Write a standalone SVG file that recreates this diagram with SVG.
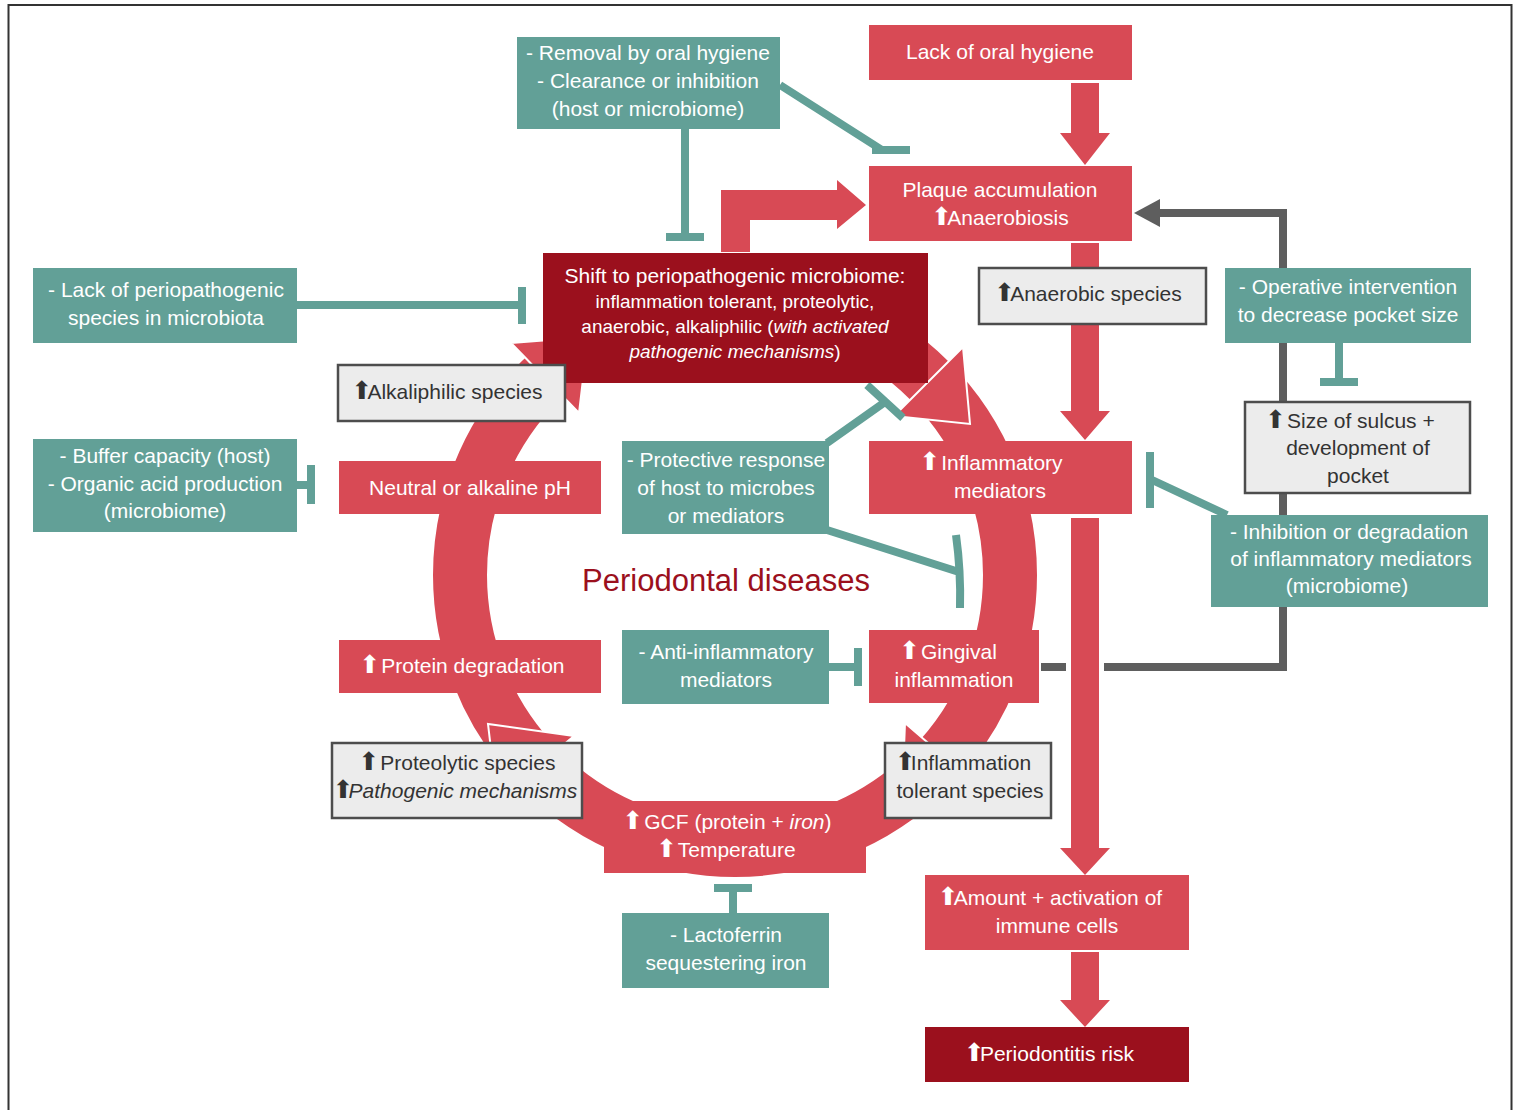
<svg xmlns="http://www.w3.org/2000/svg" width="1518" height="1110" viewBox="0 0 1518 1110">
<style>
.r{fill:#D84A55}
.dr{fill:#9B101D}
.t{fill:#62A097}
.g{fill:#ECECEC;stroke:#4D4D4D;stroke-width:2.5}
text{font-family:"Liberation Sans",Arial,sans-serif;font-size:21px;text-anchor:middle}
.w{fill:#fff}
.d{fill:#333}
.s{font-size:19px}
.i{font-style:italic}
.up{font-family:"DejaVu Sans",sans-serif;font-size:25px;letter-spacing:-5px}
.inh{stroke:#62A097;stroke-width:8;fill:none}
.fb{stroke:#5E5E5E;stroke-width:8;fill:none}
.head{fill:#D84A55;stroke:#fff;stroke-width:2;stroke-linejoin:miter}
</style>
<rect x="0" y="0" width="1518" height="1110" fill="#fff"/>
<rect x="8.5" y="5" width="1503" height="1130" fill="none" stroke="#333" stroke-width="2"/>

<g id="connectors">
  <!-- cycle ring -->
  <circle cx="735" cy="575" r="275" fill="none" stroke="#D84A55" stroke-width="54"/>
  <polygon class="head" points="894,416 963,347 970,424"/>
  <polygon class="head" points="579,413 511,343 588,337"/>
  <polygon class="head" points="905,723 978,786 902,799"/>
  <polygon class="head" points="574,736 497,800 488,724"/>
  <!-- vertical red arrows -->
  <polygon class="r" points="1071,83 1099,83 1099,133 1110,133 1085,165 1060,133 1071,133"/>
  <polygon class="r" points="1071,243 1099,243 1099,411 1110,411 1085,440 1060,411 1071,411"/>
  <polygon class="r" points="1071,518 1099,518 1099,848 1110,848 1085,875 1060,848 1071,848"/>
  <polygon class="r" points="1071,952 1099,952 1099,1000 1110,1000 1085,1027 1060,1000 1071,1000"/>
  <!-- elbow arrow shift -> plaque -->
  <polygon class="r" points="721,252 721,190 837,190 837,180 866,205 837,229 837,220 750,220 750,252"/>
  <!-- grey feedback -->
  <path class="fb" d="M1041,667 H1066 M1104,667 H1283 V213 H1156"/>
  <polygon fill="#5E5E5E" points="1134,213 1160,199 1160,227"/>
  <!-- inhibition lines -->
  <path class="inh" d="M685,129 V237 M666,237 H704"/>
  <path class="inh" d="M780,85 L882,150 M872,150 H910"/>
  <path class="inh" d="M297,305 H522 M522,287 V324"/>
  <path class="inh" d="M297,485 H311 M311,465 V504"/>
  <path class="inh" d="M1339,343 V382 M1320,382 H1358"/>
  <path class="inh" d="M1227,515 L1150,479 M1150,452 V508"/>
  <path class="inh" d="M827,443 L885,402 M867,385 L903,418"/>
  <path class="inh" d="M827,530 L959,572 M956,535 Q961,571 960,608"/>
  <path class="inh" d="M829,667 H858 M858,648 V686"/>
  <path class="inh" d="M733,913 V888 M714,888 H752"/>
</g>

<g id="removal"><rect class="t" x="517" y="37" width="263" height="92"/>
<text class="w"><tspan x="648" y="60">- Removal by oral hygiene</tspan><tspan x="648" y="88">- Clearance or inhibition</tspan><tspan x="648" y="116">(host or microbiome)</tspan></text></g>

<g id="lack-hygiene"><rect class="r" x="869" y="25" width="263" height="55"/>
<text class="w" x="1000" y="59">Lack of oral hygiene</text></g>

<g id="plaque"><rect class="r" x="869" y="166" width="263" height="75"/>
<text class="w"><tspan x="1000" y="197">Plaque accumulation</tspan><tspan x="1000" y="225"><tspan class="up">⬆</tspan>Anaerobiosis</tspan></text></g>

<g id="shift"><rect class="dr" x="543" y="253" width="385" height="130"/>
<text class="w"><tspan x="735" y="283">Shift to periopathogenic microbiome:</tspan><tspan class="s" x="735" y="308">inflammation tolerant, proteolytic,</tspan><tspan class="s" x="735" y="333">anaerobic, alkaliphilic (<tspan class="i">with activated</tspan></tspan><tspan class="s" x="735" y="358"><tspan class="i">pathogenic mechanisms</tspan>)</tspan></text></g>

<g id="lack-perio"><rect class="t" x="33" y="268" width="264" height="75"/>
<text class="w"><tspan x="166" y="297">- Lack of periopathogenic</tspan><tspan x="166" y="325">species in microbiota</tspan></text></g>

<g id="anaerobic"><rect class="g" x="979" y="268" width="227" height="56"/>
<text class="d" x="1088" y="301"><tspan class="up">⬆</tspan>Anaerobic species</text></g>

<g id="operative"><rect class="t" x="1225" y="268" width="246" height="75"/>
<text class="w"><tspan x="1348" y="294">- Operative intervention</tspan><tspan x="1348" y="322">to decrease pocket size</tspan></text></g>

<g id="alkaliphilic"><rect class="g" x="338" y="365" width="227" height="56"/>
<text class="d" x="447" y="399"><tspan class="up">⬆</tspan>Alkaliphilic species</text></g>

<g id="sulcus"><rect class="g" x="1245" y="402" width="225" height="91"/>
<text class="d"><tspan x="1350" y="428"><tspan class="up">⬆</tspan> Size of sulcus +</tspan><tspan x="1358" y="455">development of</tspan><tspan x="1358" y="483">pocket</tspan></text></g>

<g id="buffer"><rect class="t" x="33" y="439" width="264" height="93"/>
<text class="w"><tspan x="165" y="463">- Buffer capacity (host)</tspan><tspan x="165" y="491">- Organic acid production</tspan><tspan x="165" y="518">(microbiome)</tspan></text></g>

<g id="neutral-ph"><rect class="r" x="339" y="461" width="262" height="53"/>
<text class="w" x="470" y="495">Neutral or alkaline pH</text></g>

<g id="protective"><rect class="t" x="622" y="441" width="207" height="93"/>
<text class="w"><tspan x="726" y="467">- Protective response</tspan><tspan x="726" y="495">of host to microbes</tspan><tspan x="726" y="523">or mediators</tspan></text></g>

<g id="inflam-mediators"><rect class="r" x="869" y="441" width="263" height="73"/>
<text class="w"><tspan x="991" y="470"><tspan class="up">⬆</tspan> Inflammatory</tspan><tspan x="1000" y="498">mediators</tspan></text></g>

<g id="inhibition"><rect class="t" x="1211" y="515" width="277" height="92"/>
<text class="w"><tspan x="1349" y="539">- Inhibition or degradation</tspan><tspan x="1351" y="566">of inflammatory mediators</tspan><tspan x="1347" y="593">(microbiome)</tspan></text></g>

<g id="title"><text x="726" y="591" style="font-size:31px;fill:#9B101D">Periodontal diseases</text></g>

<g id="protein-deg"><rect class="r" x="339" y="640" width="262" height="53"/>
<text class="w" x="462" y="673"><tspan class="up">⬆</tspan> Protein degradation</text></g>

<g id="anti-inflam"><rect class="t" x="622" y="630" width="207" height="74"/>
<text class="w"><tspan x="726" y="659">- Anti-inflammatory</tspan><tspan x="726" y="687">mediators</tspan></text></g>

<g id="gingival"><rect class="r" x="869" y="630" width="170" height="73"/>
<text class="w"><tspan x="948" y="659"><tspan class="up">⬆</tspan> Gingival</tspan><tspan x="954" y="687">inflammation</tspan></text></g>

<g id="proteolytic"><rect class="g" x="332" y="743" width="250" height="75"/>
<text class="d"><tspan x="457" y="770"><tspan class="up">⬆</tspan> Proteolytic species</tspan><tspan x="455" y="798"><tspan class="up">⬆</tspan><tspan class="i">Pathogenic mechanisms</tspan></tspan></text></g>

<g id="tolerant"><rect class="g" x="885" y="743" width="166" height="75"/>
<text class="d"><tspan x="963" y="770"><tspan class="up">⬆</tspan>Inflammation</tspan><tspan x="970" y="798">tolerant species</tspan></text></g>

<g id="gcf"><rect class="r" x="604" y="801" width="262" height="72"/>
<text class="w"><tspan x="727" y="829"><tspan class="up">⬆</tspan> GCF (protein + <tspan class="i">iron</tspan>)</tspan><tspan x="726" y="857"><tspan class="up">⬆</tspan> Temperature</tspan></text></g>

<g id="lactoferrin"><rect class="t" x="622" y="913" width="207" height="75"/>
<text class="w"><tspan x="726" y="942">- Lactoferrin</tspan><tspan x="726" y="970">sequestering iron</tspan></text></g>

<g id="immune"><rect class="r" x="925" y="875" width="264" height="75"/>
<text class="w"><tspan x="1050" y="905"><tspan class="up">⬆</tspan>Amount + activation of</tspan><tspan x="1057" y="933">immune cells</tspan></text></g>

<g id="risk"><rect class="dr" x="925" y="1027" width="264" height="55"/>
<text class="w" x="1049" y="1061"><tspan class="up">⬆</tspan>Periodontitis risk</text></g>
</svg>
